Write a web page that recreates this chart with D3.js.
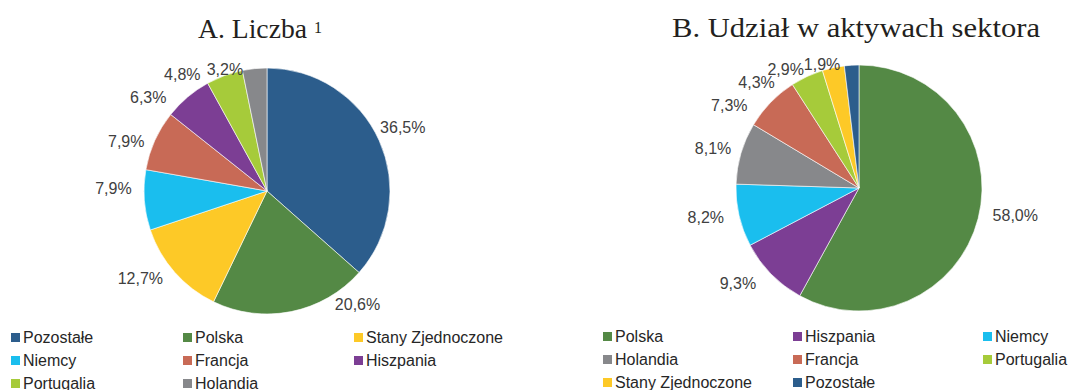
<!DOCTYPE html>
<html>
<head>
<meta charset="utf-8">
<script src="https://cdn.jsdelivr.net/npm/d3@7"></script>
<style>
  body { margin: 0; background: #ffffff; }
  svg { display: block; }
</style>
</head>
<body>
<div id="vis"></div>
<script>
// data (clockwise from 12 o'clock)
const COUNTRIES_A = ["Pozostałe", "Polska", "Stany Zjednoczone", "Niemcy",
                     "Francja", "Hiszpania", "Portugalia", "Holandia"];
const VALUES_A = [36.5, 20.6, 12.7, 7.9, 7.9, 6.3, 4.8, 3.2];

const COUNTRIES_B = ["Polska", "Hiszpania", "Niemcy", "Holandia",
                     "Francja", "Portugalia", "Stany Zjednoczone", "Pozostałe"];
const VALUES_B = [58.0, 9.3, 8.2, 8.1, 7.3, 4.3, 2.9, 1.9];

const TITLE_A = "A. Liczba";
const TITLE_A_SUP = "1";
const TITLE_B = "B. Udział w aktywach sektora";

const COLORS = {
  "Pozostałe": "#2c5d8c",
  "Polska": "#548945",
  "Stany Zjednoczone": "#fdc927",
  "Niemcy": "#1abeee",
  "Francja": "#c86a56",
  "Hiszpania": "#7c3e94",
  "Portugalia": "#a6cb3a",
  "Holandia": "#87888b"
};

const FRAME_WIDTH = 1068;
const FRAME_HEIGHT = 390;
const RADIUS = 123;
const LABEL_DIST = 150;

// labels were moved by hand in the original, so nudge them a bit
const NUDGE_A = [[-1, -2], [61, -34], [-14, -12], [-4, -14],
                 [-4, 12], [-22, 21], [-33, 24], [-27, 27]];
const NUDGE_B = [[11, -10], [-14, -10], [-7, -4], [-2, 3],
                 [-22, 22], [-39, 30], [-42, 28], [-28, 26]];

const FRAME = d3.select("#vis")
                .append("svg")
                  .attr("width", FRAME_WIDTH)
                  .attr("height", FRAME_HEIGHT);

const fmt = (v) => d3.format(".1f")(v).replace(".", ",") + "%";

function build_pie(names, values, cx, cy, nudge) {
  const data = names.map((n, i) => ({name: n, value: values[i], i: i}));

  const pie = d3.pie()
                .value((d) => d.value)
                .sort(null);
  const arc = d3.arc()
                .innerRadius(0)
                .outerRadius(RADIUS);

  const arcs = pie(data);
  const g = FRAME.append("g")
                 .attr("transform", "translate(" + cx + "," + cy + ")");

  g.selectAll("path")
    .data(arcs)
    .enter()
    .append("path")
      .attr("d", arc)
      .attr("fill", (d) => COLORS[d.data.name])
      .attr("stroke", "#ffffff")
      .attr("stroke-width", 0.6);

  // percentage labels outside the slices
  g.selectAll("text.lbl")
    .data(arcs)
    .enter()
    .append("text")
      .attr("class", "lbl")
      .attr("x", (d) => {
        const a = (d.startAngle + d.endAngle) / 2;
        return Math.sin(a) * LABEL_DIST + nudge[d.index][0];
      })
      .attr("y", (d) => {
        const a = (d.startAngle + d.endAngle) / 2;
        return -Math.cos(a) * LABEL_DIST + nudge[d.index][1];
      })
      .attr("text-anchor", "middle")
      .attr("dy", "0.36em")
      .attr("font-family", "Liberation Sans, Arial, sans-serif")
      .attr("font-size", "16px")
      .attr("fill", "#404040")
      .text((d) => fmt(d.data.value));
}

function build_legend(names, x0, y0, colX) {
  const rowH = 23;
  const items = FRAME.append("g")
                     .selectAll("g")
                     .data(names)
                     .enter()
                     .append("g")
                       .attr("transform", (d, i) =>
                         "translate(" + (x0 + colX[i % 3]) + "," + (y0 + Math.floor(i / 3) * rowH) + ")");
  items.append("rect")
    .attr("width", 9)
    .attr("height", 9)
    .attr("fill", (d) => COLORS[d]);
  items.append("text")
    .attr("x", 12)
    .attr("y", 10)
    .attr("font-family", "Liberation Sans, Arial, sans-serif")
    .attr("font-size", "16px")
    .attr("fill", "#262626")
    .text((d) => d);
}

build_pie(COUNTRIES_A, VALUES_A, 267, 191, NUDGE_A);
build_pie(COUNTRIES_B, VALUES_B, 859, 188, NUDGE_B);

build_legend(COUNTRIES_A, 11, 333, [0, 172, 343]);
build_legend(COUNTRIES_B, 603, 332, [0, 190, 380]);

// titles
FRAME.append("text")
  .attr("x", 198)
  .attr("y", 38)
  .attr("font-family", "Liberation Serif, Times New Roman, serif")
  .attr("font-size", "28px")
  .attr("fill", "#231f20")
  .attr("textLength", 109)
  .attr("lengthAdjust", "spacingAndGlyphs")
  .text(TITLE_A);
FRAME.append("text")
  .attr("x", 314)
  .attr("y", 33)
  .attr("font-family", "Liberation Serif, Times New Roman, serif")
  .attr("font-size", "16px")
  .attr("fill", "#231f20")
  .text(TITLE_A_SUP);

FRAME.append("text")
  .attr("x", 672)
  .attr("y", 37)
  .attr("font-family", "Liberation Serif, Times New Roman, serif")
  .attr("font-size", "28px")
  .attr("fill", "#231f20")
  .attr("textLength", 368)
  .attr("lengthAdjust", "spacingAndGlyphs")
  .text(TITLE_B);
</script>
</body>
</html>
